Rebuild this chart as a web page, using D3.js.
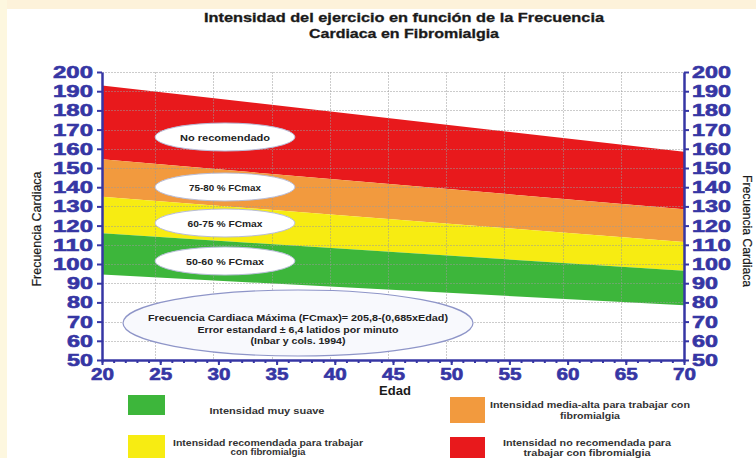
<!DOCTYPE html>
<html>
<head>
<meta charset="utf-8">
<script src="https://cdn.jsdelivr.net/npm/d3@7"></script>
<style>
  html, body { margin: 0; padding: 0; background: #ffffff; }
  svg { display: block; }
  text { font-family: "Liberation Sans", Arial, sans-serif; }
</style>
</head>
<body>
<svg id="chart" width="756" height="458"></svg>
<script>
// ---- Data ----
const ages = [20, 70];
const redTop = [193, 158.5];
const redBottom = [154.5, 128.5];
const orangeBottom = [135, 111.5];
const yellowBottom = [116, 96.5];
const greenBottom = [94.5, 78.5];

const bandNames = ["No recomendado", "75-80 % FCmax", "60-75 % FCmax", "50-60 % FCmax"];
const bandColors = ["#e8191c", "#f29a3e", "#f7ec12", "#3db63b"];

const xTicks = [20, 25, 30, 35, 40, 45, 50, 55, 60, 65, 70];
const yTicks = [50, 60, 70, 80, 90, 100, 110, 120, 130, 140, 150, 160, 170, 180, 190, 200];

const titleLines = ["Intensidad del ejercicio en función de la Frecuencia", "Cardiaca en Fibromialgia"];
const formulaLines = ["Frecuencia Cardiaca Máxima (FCmax)= 205,8-(0,685xEdad)",
                      "Error estandard ± 6,4 latidos por minuto",
                      "(Inbar y cols. 1994)"];
const legendItems = [
  {color: "#3db63b", lines: ["Intensidad muy suave"]},
  {color: "#f7ec12", lines: ["Intensidad recomendada para trabajar", "con fibromialgia"]},
  {color: "#f29a3e", lines: ["Intensidad media-alta para trabajar con", "fibromialgia"]},
  {color: "#e8191c", lines: ["Intensidad no recomendada para", "trabajar con fibromialgia"]}
];

(function () {
// ---- Layout ----
const svg = d3.select("#chart");
const W = 756, H = 458;
const pL = 102, pR = 684, pT = 72, pB = 360;
const axisBlue = "#3636a4";

// background frame
svg.append("rect").attr("x", 0).attr("y", 0).attr("width", W).attr("height", H).attr("fill", "#ffffff");
svg.append("rect").attr("x", 0).attr("y", 0).attr("width", W).attr("height", 9).attr("fill", "#fdf2da");
svg.append("rect").attr("x", 0).attr("y", 0).attr("width", 7).attr("height", H).attr("fill", "#fdf7df");

const x = d3.scaleLinear().domain([20, 70]).range([pL, pR]);
const y = d3.scaleLinear().domain([50, 200]).range([pB, pT]);

// bands
const bounds = [redTop, redBottom, orangeBottom, yellowBottom, greenBottom];
const area = d3.area()
  .x(d => x(d.age))
  .y0(d => y(d.lo))
  .y1(d => y(d.hi));
for (let b = 0; b < 4; b++) {
  const pts = ages.map((a, i) => ({age: a, hi: bounds[b][i], lo: bounds[b + 1][i]}));
  svg.append("path").datum(pts).attr("d", area).attr("fill", bandColors[b]);
}

// grid (drawn above bands, faint)
const grid = svg.append("g").attr("stroke", "#9a9a9a").attr("stroke-opacity", 0.5)
  .attr("stroke-width", 1).attr("stroke-dasharray", "2,1");
yTicks.filter(v => v > 50).forEach(v => {
  grid.append("line").attr("x1", pL).attr("x2", pR)
    .attr("y1", Math.round(y(v)) + 0.5).attr("y2", Math.round(y(v)) + 0.5);
});
xTicks.filter(v => v > 20 && v < 70).forEach(v => {
  grid.append("line").attr("y1", pT).attr("y2", pB)
    .attr("x1", Math.round(x(v)) - 4.5).attr("x2", Math.round(x(v)) - 4.5);
});

// ellipse labels on bands
const ellX = 225;
const ellY = [137, 187, 223, 261];
const ellLen = [90, 72, 75, 78];
bandNames.forEach((n, i) => {
  svg.append("ellipse").attr("cx", ellX).attr("cy", ellY[i]).attr("rx", 70).attr("ry", 14)
    .attr("fill", "#ffffff").attr("stroke", "#b7bcd8").attr("stroke-width", 1);
  svg.append("text").attr("x", ellX).attr("y", ellY[i] + 3.5).attr("text-anchor", "middle")
    .attr("font-size", 9).attr("font-weight", "bold").attr("fill", "#222")
    .attr("textLength", ellLen[i]).attr("lengthAdjust", "spacingAndGlyphs").text(n);
});

// formula ellipse
svg.append("ellipse").attr("cx", 298).attr("cy", 323).attr("rx", 175).attr("ry", 33)
  .attr("fill", "#f8f9fd").attr("stroke", "#8e95c8").attr("stroke-width", 1.2);
const fBase = [321, 332.5, 344];
const fLen = [300, 201, 95];
formulaLines.forEach((t, i) => {
  svg.append("text").attr("x", 298).attr("y", fBase[i]).attr("text-anchor", "middle")
    .attr("font-size", 9.5).attr("font-weight", "bold").attr("fill", "#222")
    .attr("textLength", fLen[i]).attr("lengthAdjust", "spacingAndGlyphs").text(t);
});

// axes
function styleAxis(g) {
  g.select(".domain").attr("stroke", axisBlue).attr("stroke-width", 2.5);
  g.selectAll(".tick line").attr("stroke", axisBlue).attr("stroke-width", 2);
  g.selectAll(".tick text").attr("fill", axisBlue).attr("font-size", 17).attr("font-weight", "bold")
    .attr("stroke", axisBlue).attr("stroke-width", 0.6)
    .attr("font-family", "'Liberation Sans', Arial, sans-serif");
}
// minor x ticks
const minor = svg.append("g").attr("transform", `translate(0,${pB})`)
  .call(d3.axisBottom(x).tickValues(d3.range(20, 71, 1)).tickSize(3).tickFormat(""));
minor.select(".domain").remove();
minor.selectAll(".tick line").attr("stroke", axisBlue).attr("stroke-width", 2);

const gx = svg.append("g").attr("transform", `translate(0,${pB})`)
  .call(d3.axisBottom(x).tickValues(xTicks).tickSize(5).tickSizeOuter(0).tickPadding(3));
styleAxis(gx);
gx.selectAll(".tick text").attr("textLength", 23).attr("lengthAdjust", "spacingAndGlyphs");

const gy = svg.append("g").attr("transform", `translate(${pL},0)`)
  .call(d3.axisLeft(y).tickValues(yTicks).tickSize(5).tickSizeOuter(0).tickPadding(4));
styleAxis(gy);
gy.selectAll(".tick text").attr("textLength", d => d >= 100 ? 40 : 26).attr("lengthAdjust", "spacingAndGlyphs");

const gy2 = svg.append("g").attr("transform", `translate(${pR},0)`)
  .call(d3.axisRight(y).tickValues(yTicks).tickSize(5).tickSizeOuter(0).tickPadding(3));
styleAxis(gy2);
gy2.selectAll(".tick text").attr("textLength", d => d >= 100 ? 39 : 26).attr("lengthAdjust", "spacingAndGlyphs");

// title
const tY = [22, 38];
const tLen = [400, 190];
titleLines.forEach((t, i) => {
  svg.append("text").attr("x", 404).attr("y", tY[i]).attr("text-anchor", "middle")
    .attr("font-size", 13).attr("font-weight", "bold").attr("fill", "#1a1a1a")
    .attr("stroke", "#1a1a1a").attr("stroke-width", 0.3)
    .attr("textLength", tLen[i]).attr("lengthAdjust", "spacingAndGlyphs").text(t);
});

// axis titles
svg.append("text").attr("x", 395).attr("y", 395).attr("text-anchor", "middle")
  .attr("font-size", 13).attr("font-weight", "bold").attr("fill", "#1a1a1a").text("Edad");
svg.append("text").attr("transform", "translate(41,229) rotate(-90)").attr("text-anchor", "middle")
  .attr("font-size", 12.5).attr("fill", "#1a1a1a").attr("stroke", "#1a1a1a").attr("stroke-width", 0.2)
  .attr("textLength", 115).attr("lengthAdjust", "spacingAndGlyphs").text("Frecuencia Cardiaca");
svg.append("text").attr("transform", "translate(743,231) rotate(90)").attr("text-anchor", "middle")
  .attr("font-size", 12.5).attr("fill", "#1a1a1a").attr("stroke", "#1a1a1a").attr("stroke-width", 0.2)
  .attr("textLength", 112).attr("lengthAdjust", "spacingAndGlyphs").text("Frecuencia Cardiaca");

// legend
const legRect = [
  {x: 128, y: 395, w: 37, h: 20},
  {x: 128, y: 435, w: 37, h: 30},
  {x: 450, y: 397, w: 35, h: 26},
  {x: 450, y: 437, w: 35, h: 30}
];
const legText = [
  {cx: 267, base: [414], len: [115]},
  {cx: 268, base: [446, 455], len: [190, 75]},
  {cx: 590, base: [408, 418.5], len: [200, 60]},
  {cx: 587, base: [446, 455.5], len: [168, 127]}
];
legendItems.forEach((it, i) => {
  const r = legRect[i];
  svg.append("rect").attr("x", r.x).attr("y", r.y).attr("width", r.w).attr("height", r.h).attr("fill", it.color);
  it.lines.forEach((ln, j) => {
    svg.append("text").attr("x", legText[i].cx).attr("y", legText[i].base[j]).attr("text-anchor", "middle")
      .attr("font-size", 8.5).attr("font-weight", "bold").attr("fill", "#333")
      .attr("textLength", legText[i].len[j]).attr("lengthAdjust", "spacingAndGlyphs").text(ln);
  });
});
})();
</script>
</body>
</html>
